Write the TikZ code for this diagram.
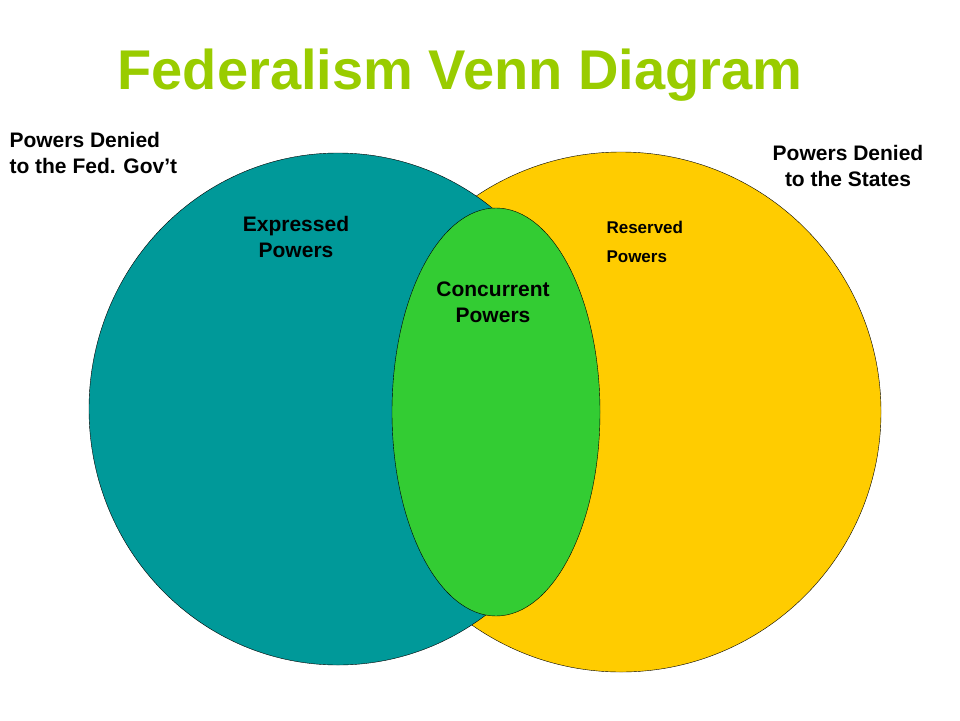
\documentclass[tikz,border=0pt]{standalone}
\usepackage{fontspec}
\setmainfont{Liberation Sans}
\definecolor{ttl}{HTML}{99CC00}
\definecolor{teal1}{HTML}{009999}
\definecolor{yel}{HTML}{FFCC00}
\definecolor{grn}{HTML}{33CC33}
\begin{document}
\begin{tikzpicture}[x=1pt,y=-1pt,lbl/.style={font=\bfseries\fontsize{21}{26}\selectfont,align=center}]
\useasboundingbox (0,0) rectangle (960,720);
\node[font=\bfseries\fontsize{56}{60}\selectfont,text=ttl] (title) at (460,75) {Federalism Venn Diagram};
\draw[fill=yel] (621,412) ellipse [x radius=260,y radius=260];
\draw[fill=teal1] (338,409) ellipse [x radius=249,y radius=256];
\draw[fill=grn] (496,412) ellipse [x radius=104,y radius=204];
\node[lbl,align=left,anchor=west] (den1) at (6,153) {Powers Denied\\to the Fed. Gov’t};
\node[lbl] (den2) at (848,166) {Powers Denied\\to the States};
\node[lbl] (exp) at (296,237) {Expressed\\Powers};
\node[lbl] (con) at (493,302) {Concurrent\\Powers};
\node[font=\bfseries\fontsize{17}{29}\selectfont,align=left,anchor=west] (res) at (603,242) {Reserved\\Powers};
\end{tikzpicture}
\end{document}
